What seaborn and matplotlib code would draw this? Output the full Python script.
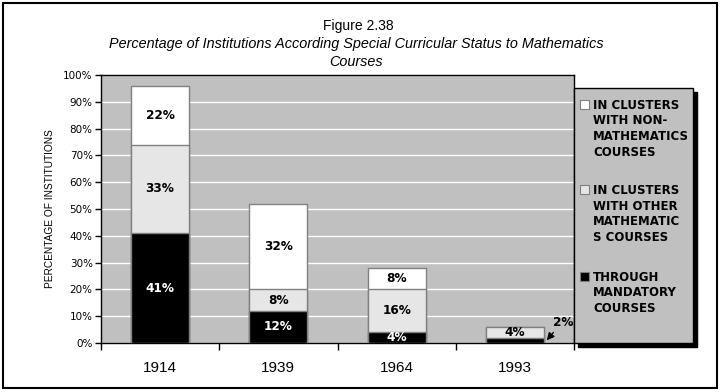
import pandas as pd
import matplotlib.pyplot as plt
import seaborn as sns
from matplotlib.patches import Rectangle

# data
years = ["1914", "1939", "1964", "1993"]
mandatory = [41, 12, 4, 2]
other_math = [33, 8, 16, 4]
non_math = [22, 32, 8, 0]

series_names = [
    "IN CLUSTERS\nWITH NON-\nMATHEMATICS\nCOURSES",
    "IN CLUSTERS\nWITH OTHER\nMATHEMATIC\nS COURSES",
    "THROUGH\nMANDATORY\nCOURSES",
]
series_colors = ["#FFFFFF", "#E6E6E6", "#000000"]
y_ticks = list(range(0, 101, 10))

W, H = 722, 392


def px(x, y):
    return x / W, 1 - y / H


df = pd.DataFrame({"year": years, "mandatory": mandatory,
                   "other": other_math, "non": non_math})
df["cum_other"] = df["mandatory"] + df["other"]
df["total"] = df["cum_other"] + df["non"]

sns.set_theme(style="white")
plt.rcParams["font.family"] = ["Liberation Sans", "DejaVu Sans"]
for k in ["text.color", "axes.labelcolor", "xtick.color", "ytick.color"]:
    plt.rcParams[k] = "black"

fig = plt.figure(figsize=(W / 100, H / 100), dpi=100)
x0, y0 = px(101, 343)
x1, y1 = px(574, 75)
ax = fig.add_axes([x0, y0, x1 - x0, y1 - y0])
ax.set_facecolor("#C0C0C0")

bar_w = 0.49
for col, color in [("total", series_colors[0]), ("cum_other", series_colors[1]),
                   ("mandatory", series_colors[2])]:
    sns.barplot(data=df, x="year", y=col, color=color, width=bar_w,
                edgecolor="#808080", linewidth=1, saturation=1, ax=ax, zorder=3)

ax.set_ylim(0, 100)
ax.set_xlim(-0.5, 3.5)
ax.set_yticks(y_ticks)
ax.set_yticklabels([f"{t}%" for t in y_ticks], family="DejaVu Sans", fontsize=7.5)
ax.yaxis.grid(True, color="white", linewidth=1)
ax.set_axisbelow(True)
ax.tick_params(axis="y", direction="out", length=4, width=1, color="black", pad=2, left=True)
ax.tick_params(axis="x", which="major", length=0, pad=13, labelsize=11)
ax.set_xticks([i - 0.5 for i in range(5)], minor=True)
ax.tick_params(axis="x", which="minor", direction="out", length=5, width=1, color="black", bottom=True)
for s in ax.spines.values():
    s.set_color("black")
    s.set_linewidth(1)
ax.set_xlabel("")
ax.set_ylabel("PERCENTAGE OF INSTITUTIONS", fontsize=7.3, labelpad=6)

# segment labels
lab_kw = dict(ha="center", va="center", fontsize=8.7, fontweight="bold",
              family="DejaVu Sans", zorder=5)
for i in range(len(years)):
    segs = [(0, mandatory[i], "white"),
            (mandatory[i], other_math[i], "black"),
            (mandatory[i] + other_math[i], non_math[i], "black")]
    for base, val, tc in segs:
        if val == 0 or (i == 3 and base == 0):
            continue
        ax.text(i, base + val / 2, f"{val}%", color=tc, clip_on=True, **lab_kw)

# the 2% of 1993 is too thin for its label, so it sits outside with an arrow
ax.annotate(f"{mandatory[3]}%", xy=(3 + 0.27, mandatory[3] / 2), xytext=(3.41, 7.6),
            ha="center", va="center", fontsize=8.7, fontweight="bold",
            family="DejaVu Sans", annotation_clip=False, zorder=6,
            arrowprops=dict(arrowstyle="-|>", color="black", lw=0.9,
                            mutation_scale=11, shrinkA=0, shrinkB=0,
                            relpos=(0.15, 0.0)))

# titles
fig.text(*px(358, 26), "Figure 2.38", ha="center", va="center", fontsize=10)
fig.text(*px(356, 44), "Percentage of Institutions According Special Curricular Status to Mathematics",
         ha="center", va="center", fontsize=10.4, style="italic")
fig.text(*px(356, 62), "Courses", ha="center", va="center", fontsize=10.4, style="italic")

# legend box with shadow
lx0, ly0 = px(574, 343)
lx1, ly1 = px(693, 88)
sx, sy = 4 / W, 4 / H
fig.patches.append(Rectangle((lx0 + sx, ly0 - sy), lx1 - lx0, ly1 - ly0,
                             transform=fig.transFigure, facecolor="black",
                             edgecolor="black", zorder=1))
fig.patches.append(Rectangle((lx0, ly0), lx1 - lx0, ly1 - ly0,
                             transform=fig.transFigure, facecolor="#C0C0C0",
                             edgecolor="black", linewidth=1, zorder=2))
entry_tops = [101, 186, 273]
for name, color, top in zip(series_names, series_colors, entry_tops):
    mx, my = px(580, top + 8)
    fig.patches.append(Rectangle((mx, my), 9 / W, 9 / H, transform=fig.transFigure,
                                 facecolor=color, edgecolor="#808080", linewidth=0.8, zorder=3))
    fig.text(*px(593, top - 2), name, ha="left", va="top", fontsize=8.5,
             fontweight="bold", family="DejaVu Sans", linespacing=1.25, zorder=4)

# outer frame
fig.patches.append(Rectangle(px(3, 388), 714 / W, 385 / H, transform=fig.transFigure,
                             fill=False, edgecolor="black", linewidth=1.5))

fig.savefig("out.png", dpi=100)
